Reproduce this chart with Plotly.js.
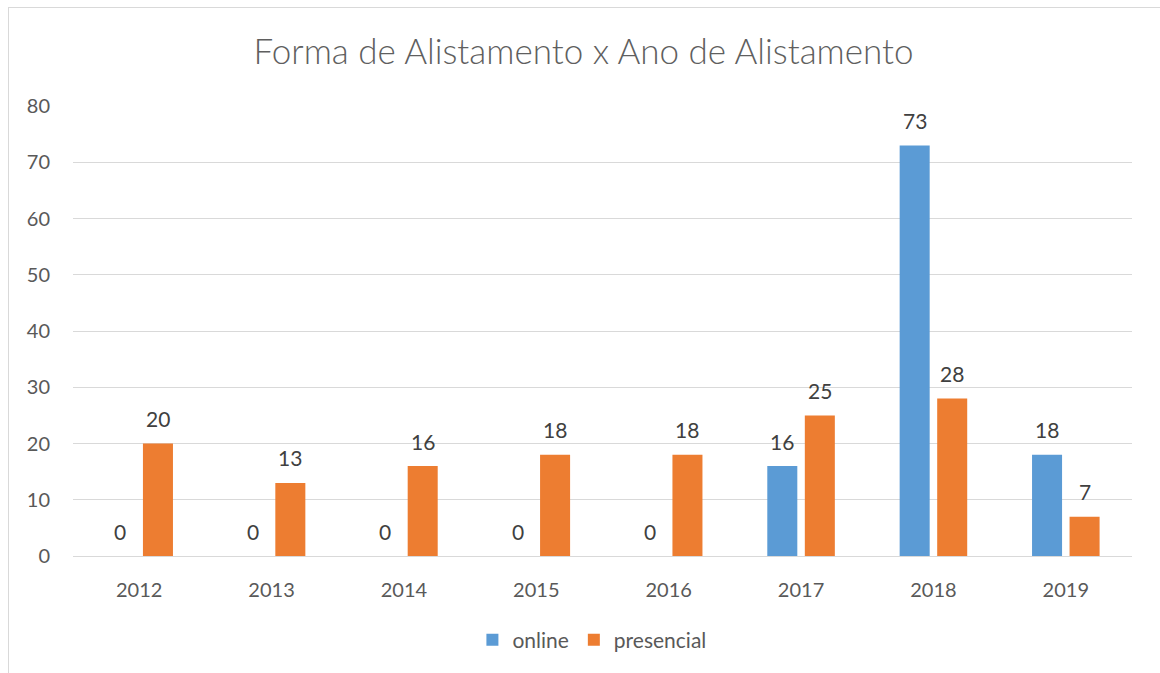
<!DOCTYPE html>
<html><head><meta charset="utf-8">
<script src="https://cdn.plot.ly/plotly-3.0.1.min.js"></script>
<style>
html,body{margin:0;padding:0;background:#fff;overflow:hidden;}
#chart{position:absolute;left:0;top:0;width:1160px;height:673px;}
#frame{position:absolute;left:8px;top:7px;width:1300px;height:800px;border:1px solid #d9d9d9;pointer-events:none;}
</style></head>
<body>
<div id="chart"></div>
<div id="frame"></div>
<script>
const categories = ['2012','2013','2014','2015','2016','2017','2018','2019'];
const online = [0,0,0,0,0,16,73,18];
const presencial = [20,13,16,18,18,25,28,7];
const seriesNames = ['online','presencial'];
const yTicks = [0,10,20,30,40,50,60,70,80];

const FONT = 'Lato, "Open Sans", sans-serif';
const GREY = '#595959';
const colors = ['#5B9BD5','#ED7D31'];
const groupOffset = 0.1416;

const traces = [online, presencial].map((vals,i)=>({
  type:'bar', x:categories, y:vals, name:seriesNames[i],
  marker:{color:colors[i]}, hoverinfo:'none'
}));

const annotations = [];
[online, presencial].forEach((vals,i)=>{
  vals.forEach((v,j)=>{
    annotations.push({
      xref:'x', yref:'y', x: j + (i===0 ? -groupOffset : groupOffset), y: v,
      text:String(v), showarrow:false, yanchor:'middle', yshift:25,
      font:{family:FONT, size:21, color:'#404040'}
    });
  });
});

const layout = {
  width:1160, height:673,
  margin:{l:73, r:28, t:106, b:117},
  paper_bgcolor:'#fff', plot_bgcolor:'#fff',
  title:{text:'Forma de Alistamento x Ano de Alistamento', x:0.503, xanchor:'center',
         y:1-52/673, yanchor:'middle', yref:'container',
         font:{family:FONT, size:35, color:'#5f5f5f', weight:300}},
  barmode:'group', bargap:0.433, bargroupgap:0.2,
  xaxis:{type:'category', tickfont:{family:FONT, size:20, color:GREY},
         showgrid:false, showline:true, linecolor:'#d9d9d9', linewidth:1,
         ticks:'', ticklabelstandoff:16, fixedrange:true},
  yaxis:{range:[0,80], tickvals:yTicks, tickfont:{family:FONT, size:20, color:GREY},
         showgrid:true, gridcolor:'#d9d9d9', gridwidth:1, zeroline:false,
         showline:false, ticks:'', ticklabelstandoff:22, fixedrange:true},
  legend:{orientation:'h', x:0.49, xanchor:'center', y:-0.187, yanchor:'middle',
          font:{family:FONT, size:21, color:GREY}, itemwidth:30, traceorder:'normal'},
  annotations: annotations,
  showlegend:true
};

Plotly.newPlot('chart', traces, layout, {displayModeBar:false, staticPlot:true});
</script>
</body></html>
